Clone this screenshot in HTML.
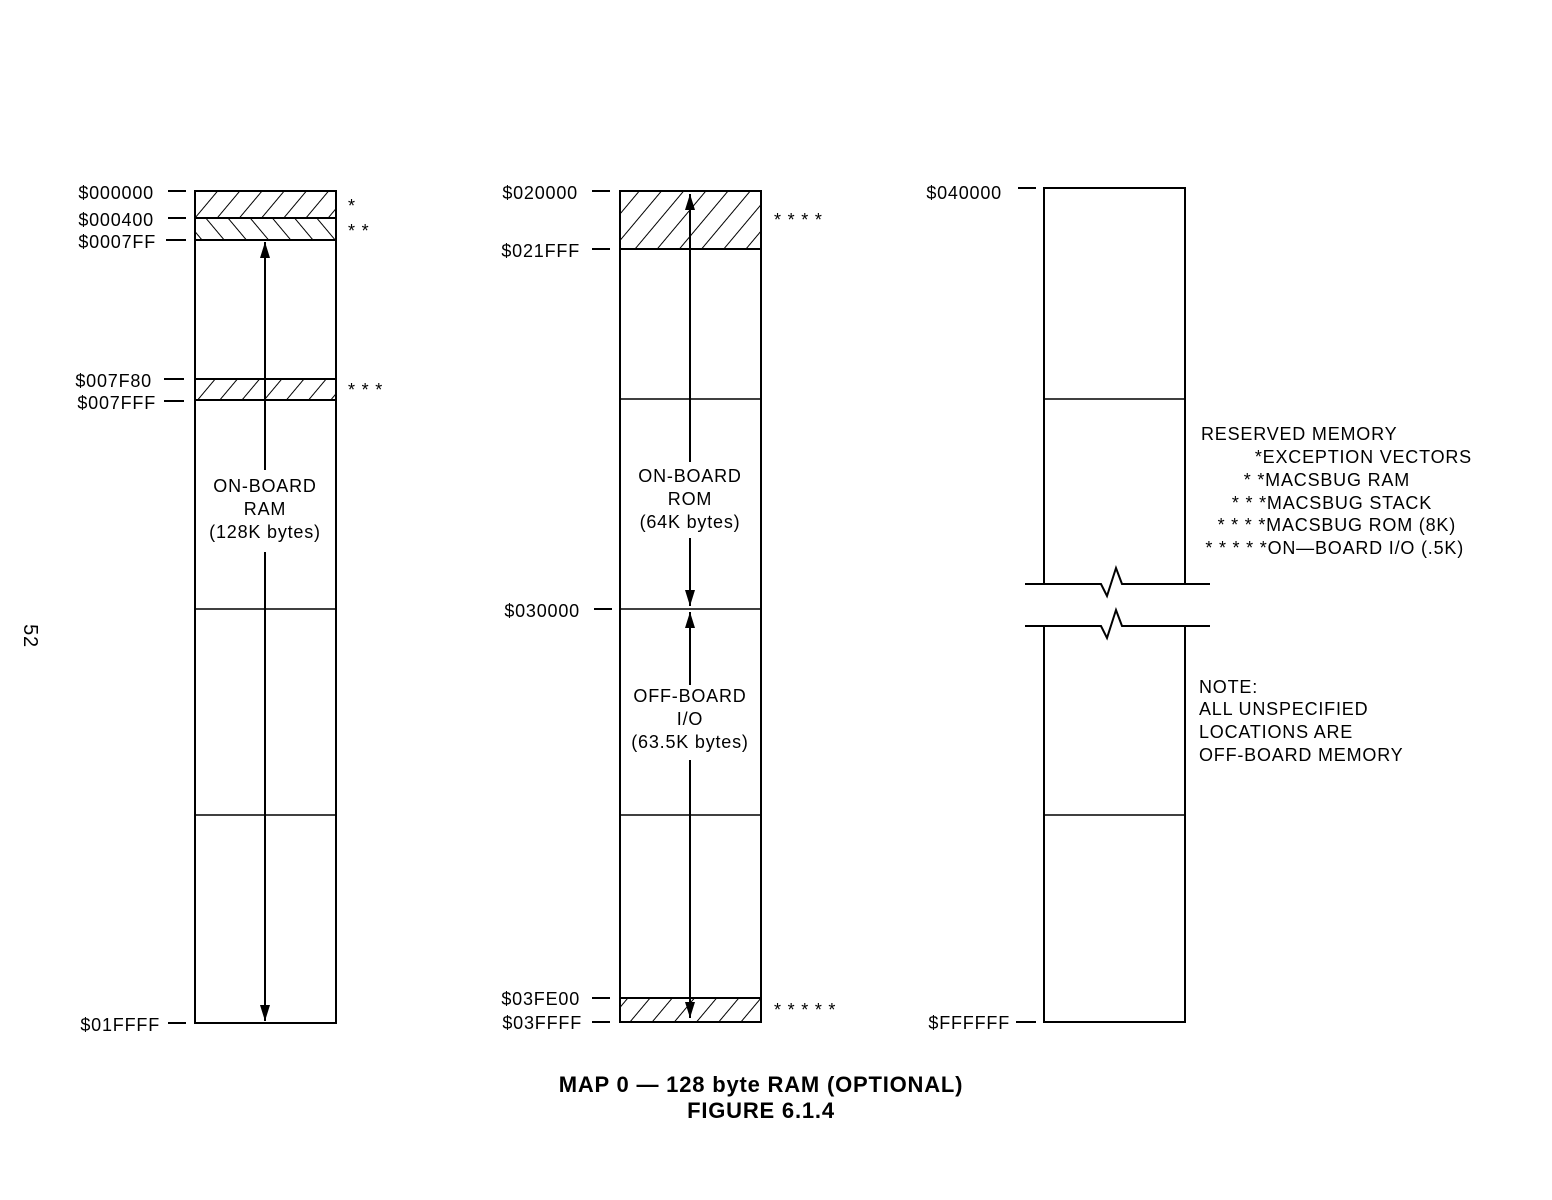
<!DOCTYPE html>
<html><head><style>body{margin:0;background:#fff}svg{display:block}</style></head><body>
<svg width="1552" height="1200" xmlns="http://www.w3.org/2000/svg" font-family="Liberation Sans, sans-serif">
<defs>
<pattern id="f" width="17" height="17" patternUnits="userSpaceOnUse" patternTransform="rotate(40)"><line x1="0" y1="0" x2="0" y2="17" stroke="#000" stroke-width="2"/></pattern>
<pattern id="b" width="17" height="17" patternUnits="userSpaceOnUse" patternTransform="rotate(-40)"><line x1="0" y1="0" x2="0" y2="17" stroke="#000" stroke-width="2"/></pattern>
<marker id="a" markerWidth="16" markerHeight="10" refX="16" refY="5" orient="auto" markerUnits="userSpaceOnUse" viewBox="0 0 16 10"><path d="M0,0 L16,5 L0,10 Z" fill="#000"/></marker>
</defs>
<g stroke="#000" stroke-width="2" fill="none">
<rect x="195" y="191" width="141" height="27" fill="url(#f)"/>
<rect x="195" y="218" width="141" height="22" fill="url(#b)"/>
<rect x="195" y="379" width="141" height="21" fill="url(#f)"/>
<rect x="195" y="191" width="141" height="832"/>
<line x1="195" y1="609" x2="336" y2="609" stroke-width="1.5"/>
<line x1="195" y1="815" x2="336" y2="815" stroke-width="1.5"/>
<line x1="265" y1="470" x2="265" y2="242" marker-end="url(#a)"/>
<line x1="265" y1="552" x2="265" y2="1021" marker-end="url(#a)"/>
<line x1="168" y1="191" x2="186" y2="191"/><line x1="168" y1="218" x2="186" y2="218"/><line x1="166" y1="240" x2="186" y2="240"/>
<line x1="164" y1="379" x2="184" y2="379"/><line x1="164" y1="401" x2="184" y2="401"/><line x1="168" y1="1023" x2="186" y2="1023"/>
<rect x="620" y="191" width="141" height="58" fill="url(#f)"/>
<rect x="620" y="998" width="141" height="24" fill="url(#f)"/>
<rect x="620" y="191" width="141" height="831"/>
<line x1="620" y1="399" x2="761" y2="399" stroke-width="1.5"/>
<line x1="620" y1="609" x2="761" y2="609" stroke-width="1.5"/>
<line x1="620" y1="815" x2="761" y2="815" stroke-width="1.5"/>
<line x1="690" y1="462" x2="690" y2="194" marker-end="url(#a)"/>
<line x1="690" y1="538" x2="690" y2="606" marker-end="url(#a)"/>
<line x1="690" y1="685" x2="690" y2="612" marker-end="url(#a)"/>
<line x1="690" y1="760" x2="690" y2="1018" marker-end="url(#a)"/>
<line x1="592" y1="191" x2="610" y2="191"/><line x1="592" y1="249" x2="610" y2="249"/><line x1="594" y1="609" x2="612" y2="609"/>
<line x1="592" y1="998" x2="610" y2="998"/><line x1="592" y1="1022" x2="610" y2="1022"/>
<polyline points="1044,584 1044,188 1185,188 1185,584"/>
<polyline points="1044,626 1044,1022 1185,1022 1185,626"/>
<line x1="1044" y1="399" x2="1185" y2="399" stroke-width="1.5"/>
<line x1="1044" y1="815" x2="1185" y2="815" stroke-width="1.5"/>
<polyline points="1025,584 1101,584 1107,596 1116,568 1122,584 1210,584"/>
<polyline points="1025,626 1101,626 1107,638 1116,610 1122,626 1210,626"/>
<line x1="1018" y1="188" x2="1036" y2="188"/><line x1="1016" y1="1022" x2="1036" y2="1022"/>
</g>
<g font-size="18" fill="#000" letter-spacing="0.8">
<g text-anchor="end">
<text x="154" y="199">$000000</text><text x="154" y="226">$000400</text><text x="156" y="248">$0007FF</text>
<text x="152" y="387">$007F80</text><text x="156" y="409">$007FFF</text><text x="160" y="1031">$01FFFF</text>
<text x="578" y="199">$020000</text><text x="580" y="257">$021FFF</text><text x="580" y="617">$030000</text>
<text x="580" y="1005">$03FE00</text><text x="582" y="1029">$03FFFF</text>
<text x="1002" y="199">$040000</text><text x="1010" y="1029">$FFFFFF</text>
</g>
<text x="348" y="212">*</text><text x="348" y="237">* *</text><text x="348" y="396">* * *</text>
<text x="774" y="226">* * * *</text><text x="774" y="1016">* * * * *</text>
<g text-anchor="middle">
<text x="265" y="492">ON-BOARD</text><text x="265" y="515">RAM</text><text x="265" y="538">(128K bytes)</text>
<text x="690" y="482">ON-BOARD</text><text x="690" y="505">ROM</text><text x="690" y="528">(64K bytes)</text>
<text x="690" y="702">OFF-BOARD</text><text x="690" y="725">I/O</text><text x="690" y="748">(63.5K bytes)</text>
</g>
<text x="1201" y="440">RESERVED MEMORY</text>
<text x="1472" y="463" text-anchor="end">*EXCEPTION VECTORS</text>
<text x="1410" y="486" text-anchor="end">* *MACSBUG RAM</text>
<text x="1432" y="509" text-anchor="end">* * *MACSBUG STACK</text>
<text x="1456" y="531" text-anchor="end">* * * *MACSBUG ROM (8K)</text>
<text x="1464" y="554" text-anchor="end">* * * * *ON—BOARD I/O (.5K)</text>
<text x="1199" y="693">NOTE:</text><text x="1199" y="715">ALL UNSPECIFIED</text>
<text x="1199" y="738">LOCATIONS ARE</text><text x="1199" y="761">OFF-BOARD MEMORY</text>
<g font-weight="bold" font-size="22" text-anchor="middle">
<text x="761" y="1092">MAP 0 — 128 byte RAM (OPTIONAL)</text>
<text x="761" y="1118">FIGURE 6.1.4</text>
</g>
<text x="0" y="0" font-size="20" transform="translate(24,636) rotate(90)" text-anchor="middle">52</text>
</g>
</svg>
</body></html>
